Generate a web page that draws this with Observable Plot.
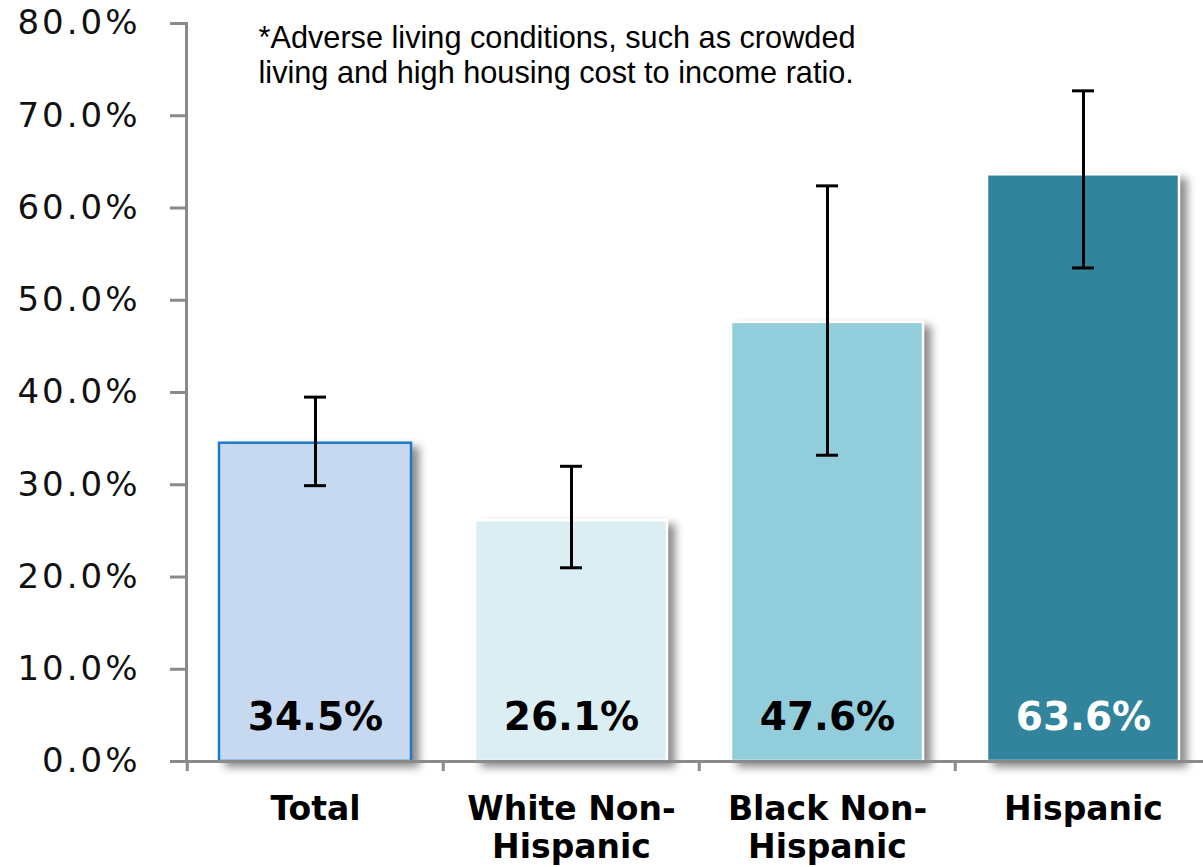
<!DOCTYPE html>
<html><head><meta charset="utf-8">
<script src="https://cdn.jsdelivr.net/npm/d3@7"></script>
<script src="https://cdn.jsdelivr.net/npm/@observablehq/plot@0.6"></script>
<style>
body{margin:0;background:#fff;}
g[aria-label="y-axis tick label"]{letter-spacing:3px;}
g[aria-label="bar"] rect{filter:drop-shadow(7px 5px 4px rgba(0,0,0,0.45));}
</style></head><body><div id="chart"></div>
<script>
const categories = ["Total","White Non-Hispanic","Black Non-Hispanic","Hispanic"];
const categoryLabels = ["Total","White Non-\nHispanic","Black Non-\nHispanic","Hispanic"];
const values = [34.5, 26.1, 47.6, 63.6];
const lower = [29.9, 21.0, 33.2, 53.5];
const upper = [39.5, 32.0, 62.4, 72.7];
const yTicks = [0,10,20,30,40,50,60,70,80];
const note = "*Adverse living conditions, such as crowded\nliving and high housing cost to income ratio.";

const fills = ["#c6d9f1","#daeef3","#92cddc","#31849b"];
const strokes = ["#1f78c8","#ffffff","#ffffff","#ffffff"];
const labelColors = ["#000000","#000000","#000000","#ffffff"];

const data = categories.map((c,i)=>({cat:c, label:categoryLabels[i], value:values[i], lo:lower[i], hi:upper[i], fill:fills[i], stroke:strokes[i], tc:labelColors[i]}));

const W=1203, H=867, mL=186, mR=-9, mT=23, mB=106;
const step = (W-mL-mR)/categories.length;
const gray = "#8a8a8a";

const plot = Plot.plot({
  width: W, height: H,
  marginLeft: mL, marginRight: mR, marginTop: mT, marginBottom: mB,
  style: {fontFamily: "DejaVu Sans", background: "white", overflow: "visible"},
  x: {domain: categories, paddingInner: 0.25, paddingOuter: 0.125, label: null},
  y: {domain: [0, 80], label: null},
  color: {type: "identity"},
  marks: [
    Plot.barY(data, {x: "cat", y: "value", fill: "fill", stroke: "stroke", strokeWidth: 2.5}),
    Plot.frame({anchor: "left", stroke: gray, strokeWidth: 3}),
    Plot.ruleY([0], {stroke: gray, strokeWidth: 3}),
    Plot.axisY({ticks: yTicks, tickFormat: d => d.toFixed(1) + "%", tickSize: 16, tickPadding: 30, fontSize: 34, stroke: gray, strokeWidth: 3, fill: "#111", label: null}),
    Plot.axisX({tickSize: 10, tickFormat: () => "", dx: -step/2, stroke: gray, strokeWidth: 3, label: null}),
    Plot.ruleX(data, {x: "cat", y1: "lo", y2: "hi", stroke: "black", strokeWidth: 3}),
    Plot.tickY(data, {x: "cat", y: "hi", stroke: "black", strokeWidth: 3, insetLeft: 85, insetRight: 85}),
    Plot.tickY(data, {x: "cat", y: "lo", stroke: "black", strokeWidth: 3, insetLeft: 85, insetRight: 85}),
    Plot.text(data, {x: "cat", y: 0, text: d => d.value.toFixed(1) + "%", fill: "tc", fontSize: 39, fontWeight: "bold", lineAnchor: "middle", dy: -44}),
    Plot.text(data, {x: "cat", y: 0, text: "label", fill: "#000", fontSize: 33, fontWeight: "bold", lineAnchor: "top", lineHeight: 1.15, dy: 32}),
    Plot.text([note], {frameAnchor: "top-left", text: d => d, textAnchor: "start", lineAnchor: "top", fontSize: 30.7, fontFamily: "Liberation Sans", lineHeight: 1.14, dx: 72, dy: 0, fill: "#000"})
  ]
});
document.getElementById("chart").appendChild(plot);
</script></body></html>
